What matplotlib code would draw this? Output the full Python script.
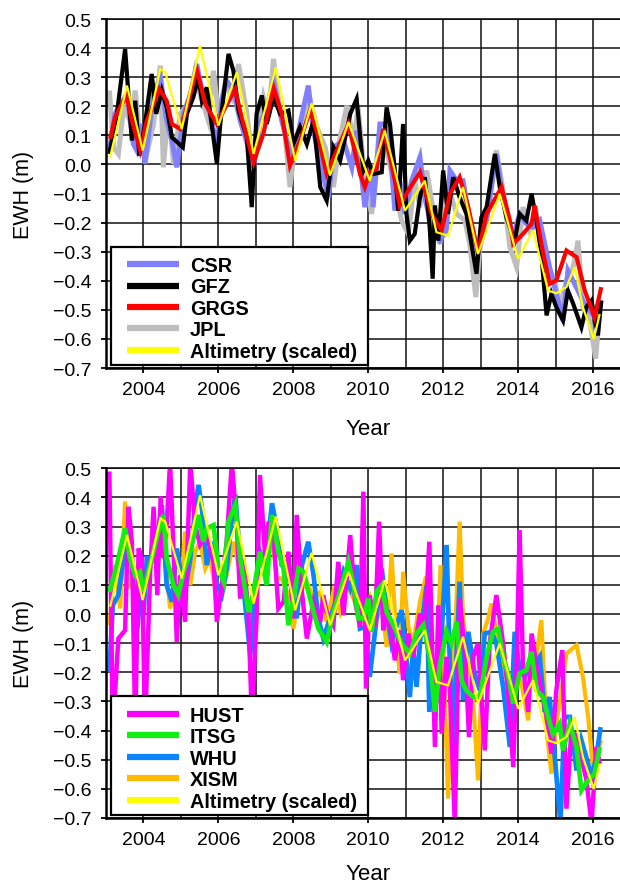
import matplotlib
matplotlib.use("Agg")
import matplotlib.pyplot as plt
from matplotlib.ticker import MultipleLocator, FuncFormatter
from matplotlib.patches import Rectangle

plt.rcParams['font.family'] = ['Liberation Sans', 'DejaVu Sans']

# ---------------- Altimetry (scaled), shared by both panels ----------------
alt_t = [2003.11, 2003.56, 2003.98, 2004.45, 2004.58, 2005.02, 2005.51, 2006.00, 2006.49, 2006.94,
         2007.53, 2008.05, 2008.49, 2008.98, 2009.47, 2009.78, 2010.04, 2010.44, 2010.98, 2011.51,
         2011.82, 2012.13, 2012.53, 2012.93, 2013.51, 2014.00, 2014.40, 2014.80, 2015.02, 2015.29,
         2015.51, 2015.73, 2016.02, 2016.18]
alt_v = [0.025, 0.271, 0.048, 0.328, 0.317, 0.122, 0.408, 0.133, 0.317, 0.036,
         0.334, 0.013, 0.210, -0.038, 0.145, 0.036, -0.056, 0.116, -0.159, -0.056,
         -0.233, -0.245, -0.078, -0.308, -0.101, -0.325, -0.227, -0.434, -0.443, -0.422,
         -0.353, -0.491, -0.600, -0.514]

# ---------------- Top panel ----------------
grgs_t = [2003.11, 2003.24, 2003.54, 2003.69, 2003.91, 2004.09, 2004.43, 2004.62, 2004.76, 2004.98,
          2005.11, 2005.42, 2005.65, 2005.96, 2006.14, 2006.45, 2006.62, 2006.94, 2007.20, 2007.47,
          2007.69, 2007.91, 2008.18, 2008.45, 2008.67, 2008.89, 2009.20, 2009.47, 2009.78, 2009.91,
          2010.04, 2010.22, 2010.40, 2010.62, 2010.84, 2011.07, 2011.38, 2011.69, 2011.96, 2012.18,
          2012.44, 2012.67, 2012.93, 2013.16, 2013.56, 2013.78, 2013.87, 2014.13, 2014.36, 2014.44,
          2014.62, 2014.84, 2015.02, 2015.29, 2015.56, 2015.78, 2016.04, 2016.22]
grgs_v = [0.088, 0.162, 0.237, 0.151, 0.048, 0.151, 0.259, 0.219, 0.139, 0.122,
          0.174, 0.328, 0.208, 0.139, 0.185, 0.259, 0.162, 0.007, 0.105, 0.265,
          0.174, -0.004, 0.082, 0.185, 0.093, -0.033, 0.059, 0.139, -0.033, -0.078,
          -0.027, -0.015, 0.122, 0.002, -0.141, -0.090, -0.027, -0.170, -0.227, -0.101,
          -0.044, -0.147, -0.302, -0.170, -0.078, -0.193, -0.273, -0.239, -0.204, -0.141,
          -0.273, -0.411, -0.399, -0.296, -0.319, -0.434, -0.525, -0.422]

gfz_t = [2003.09, 2003.29, 2003.51, 2003.69, 2003.78, 2003.89, 2004.04, 2004.22, 2004.34, 2004.49,
         2004.62, 2004.76, 2005.05, 2005.16, 2005.33, 2005.47, 2005.56, 2005.69, 2005.82, 2005.96,
         2006.05, 2006.27, 2006.40, 2006.54, 2006.76, 2006.89, 2007.02, 2007.16, 2007.29, 2007.47,
         2007.65, 2007.87, 2008.00, 2008.18, 2008.36, 2008.54, 2008.72, 2008.89, 2009.07, 2009.25,
         2009.52, 2009.69, 2009.87, 2010.00, 2010.13, 2010.36, 2010.49, 2010.58, 2010.71, 2010.80,
         2010.93, 2011.02, 2011.11, 2011.24, 2011.38, 2011.51, 2011.64, 2011.72, 2011.78, 2011.87,
         2012.00, 2012.13, 2012.27, 2012.44, 2012.62, 2012.80, 2012.89, 2013.02, 2013.16, 2013.38,
         2013.51, 2013.69, 2013.91, 2014.04, 2014.22, 2014.36, 2014.49, 2014.62, 2014.76, 2014.89,
         2015.02, 2015.20, 2015.33, 2015.47, 2015.69, 2015.82, 2015.96, 2016.13, 2016.22]
gfz_v = [0.036, 0.174, 0.397, 0.082, 0.219, 0.030, 0.139, 0.311, 0.174, 0.254,
         0.196, 0.093, 0.059, 0.174, 0.231, 0.300, 0.219, 0.265, 0.139, 0.002,
         0.139, 0.380, 0.322, 0.185, 0.093, -0.147, 0.174, 0.237, 0.139, 0.231,
         0.174, 0.185, 0.070, 0.128, 0.070, 0.151, -0.078, -0.124, 0.059, 0.013,
         0.174, 0.225, -0.021, 0.013, -0.033, -0.027, 0.196, 0.139, -0.021, -0.159,
         0.139, -0.170, -0.262, -0.239, -0.113, -0.044, -0.216, -0.393, -0.141, -0.262,
         -0.021, -0.170, -0.044, -0.113, -0.170, -0.308, -0.376, -0.182, -0.147, 0.036,
         -0.078, -0.182, -0.262, -0.170, -0.193, -0.101, -0.193, -0.308, -0.519, -0.445,
         -0.491, -0.537, -0.434, -0.479, -0.560, -0.491, -0.468, -0.588, -0.468]

csr_t = [2003.09, 2003.24, 2003.56, 2003.73, 2003.82, 2003.96, 2004.04, 2004.27, 2004.45, 2004.62,
         2004.76, 2004.89, 2005.07, 2005.29, 2005.42, 2005.60, 2005.78, 2005.96, 2006.09, 2006.22,
         2006.40, 2006.58, 2006.80, 2006.94, 2007.11, 2007.29, 2007.47, 2007.65, 2007.83, 2008.00,
         2008.18, 2008.40, 2008.54, 2008.72, 2008.94, 2009.07, 2009.34, 2009.56, 2009.69, 2009.91,
         2010.09, 2010.13, 2010.31, 2010.44, 2010.58, 2010.71, 2010.84, 2010.98, 2011.16, 2011.38,
         2011.51, 2011.69, 2011.91, 2012.09, 2012.18, 2012.36, 2012.53, 2012.71, 2012.93, 2013.16,
         2013.42, 2013.60, 2013.87, 2014.04, 2014.22, 2014.40, 2014.58, 2014.84, 2015.02, 2015.20,
         2015.33, 2015.51, 2015.73, 2015.91, 2016.09, 2016.22]
csr_v = [0.048, 0.174, 0.242, 0.070, 0.048, 0.139, 0.002, 0.242, 0.300, 0.151,
         0.082, -0.010, 0.174, 0.254, 0.345, 0.231, 0.174, 0.059, 0.219, 0.288,
         0.254, 0.151, 0.059, -0.010, 0.139, 0.196, 0.288, 0.174, 0.082, 0.025,
         0.139, 0.271, 0.116, 0.002, -0.113, 0.059, 0.082, -0.010, 0.116, -0.147,
         0.002, -0.147, 0.139, 0.139, 0.059, -0.159, -0.056, -0.170, -0.056, 0.025,
         -0.113, -0.216, -0.262, -0.227, -0.021, -0.056, -0.056, -0.193, -0.308, -0.193,
         0.036, -0.124, -0.250, -0.170, -0.204, -0.216, -0.193, -0.353, -0.445, -0.537,
         -0.365, -0.411, -0.468, -0.502, -0.537, -0.468]

jpl_t = [2003.09, 2003.20, 2003.33, 2003.47, 2003.64, 2003.78, 2003.91, 2004.09, 2004.27, 2004.45,
         2004.53, 2004.67, 2004.80, 2004.98, 2005.20, 2005.38, 2005.51, 2005.73, 2005.87, 2006.00,
         2006.18, 2006.36, 2006.54, 2006.76, 2006.89, 2007.02, 2007.20, 2007.34, 2007.47, 2007.65,
         2007.78, 2007.91, 2008.09, 2008.27, 2008.45, 2008.63, 2008.85, 2009.07, 2009.25, 2009.43,
         2009.61, 2009.73, 2009.91, 2010.09, 2010.27, 2010.40, 2010.53, 2010.71, 2010.89, 2011.07,
         2011.24, 2011.38, 2011.56, 2011.78, 2011.91, 2012.13, 2012.36, 2012.58, 2012.71, 2012.87,
         2013.02, 2013.16, 2013.42, 2013.60, 2013.78, 2013.96, 2014.13, 2014.31, 2014.49, 2014.67,
         2014.80, 2014.98, 2015.11, 2015.29, 2015.47, 2015.60, 2015.73, 2015.91, 2016.07, 2016.20]
jpl_v = [0.254, 0.059, 0.036, 0.196, 0.151, 0.254, 0.082, 0.036, 0.139, 0.340,
         -0.010, 0.196, 0.002, 0.174, 0.208, 0.322, 0.242, 0.151, 0.322, 0.174,
         0.277, 0.231, 0.345, 0.174, 0.036, 0.082, 0.231, 0.162, 0.363, 0.174,
         0.105, -0.078, 0.105, 0.151, 0.219, 0.128, 0.059, -0.078, 0.093, 0.202,
         0.082, 0.196, -0.056, -0.170, 0.025, 0.093, 0.025, -0.078, -0.193, -0.239,
         -0.056, -0.147, -0.021, -0.193, -0.273, -0.078, -0.170, -0.193, -0.273, -0.456,
         -0.227, -0.170, 0.048, -0.090, -0.285, -0.353, -0.147, -0.227, -0.170, -0.308,
         -0.353, -0.399, -0.491, -0.399, -0.353, -0.262, -0.491, -0.537, -0.668, -0.468]

# ---------------- Bottom panel ----------------
hust_t = [2003.09, 2003.18, 2003.33, 2003.51, 2003.60, 2003.69, 2003.78, 2003.87, 2003.96, 2004.04,
          2004.18, 2004.27, 2004.37, 2004.46, 2004.53, 2004.62, 2004.71, 2004.80, 2004.89, 2004.98,
          2005.11, 2005.25, 2005.38, 2005.51, 2005.69, 2005.87, 2005.96, 2006.09, 2006.22, 2006.36,
          2006.49, 2006.58, 2006.67, 2006.80, 2006.89, 2007.02, 2007.11, 2007.25, 2007.34, 2007.47,
          2007.60, 2007.74, 2007.87, 2008.00, 2008.09, 2008.23, 2008.36, 2008.54, 2008.72, 2008.80,
          2008.89, 2009.07, 2009.20, 2009.34, 2009.52, 2009.65, 2009.78, 2009.87, 2009.94, 2010.04,
          2010.18, 2010.29, 2010.40, 2010.53, 2010.62, 2010.71, 2010.84, 2010.93, 2011.07, 2011.20,
          2011.38, 2011.51, 2011.63, 2011.78, 2011.87, 2011.96, 2012.09, 2012.18, 2012.31, 2012.44,
          2012.58, 2012.69, 2012.80, 2012.93, 2013.11, 2013.24, 2013.42, 2013.60, 2013.73, 2013.87,
          2013.96, 2014.04, 2014.13, 2014.27, 2014.36, 2014.49, 2014.62, 2014.76, 2014.89, 2015.02,
          2015.18, 2015.29, 2015.42, 2015.56, 2015.69, 2015.82, 2015.96, 2016.09, 2016.18]
hust_v = [0.489, -0.400, -0.084, -0.056, 0.368, 0.248, -0.400, 0.225, 0.191, -0.400,
          0.145, 0.368, 0.065, 0.403, 0.191, 0.305, 0.520, 0.225, -0.096, 0.133,
          -0.027, 0.520, 0.305, 0.237, 0.271, 0.179, -0.027, 0.099, 0.248, 0.520,
          0.305, 0.053, 0.191, 0.007, -0.350, -0.015, 0.477, 0.191, 0.317, 0.271,
          0.019, 0.042, 0.214, -0.015, 0.340, 0.076, -0.084, 0.042, -0.027, 0.065,
          0.007, -0.038, 0.179, -0.004, 0.271, 0.042, -0.044, 0.420, -0.256, 0.064,
          -0.044, 0.317, -0.056, 0.013, -0.067, -0.159, -0.056, -0.227, -0.067, -0.147,
          0.002, -0.056, 0.248, -0.456, 0.030, -0.411, -0.147, -0.262, -0.720, 0.053,
          -0.130, -0.422, -0.147, -0.101, -0.468, -0.101, 0.065, -0.101, -0.262, -0.525,
          -0.176, 0.288, -0.176, -0.336, -0.067, -0.176, -0.262, -0.353, -0.479, -0.262,
          -0.124, -0.668, -0.405, -0.416, -0.497, -0.566, -0.720, -0.456, -0.514]

itsg_t = [2003.09, 2003.29, 2003.51, 2003.64, 2003.78, 2003.91, 2004.00, 2004.22, 2004.40, 2004.53,
          2004.62, 2004.80, 2004.93, 2005.07, 2005.25, 2005.47, 2005.60, 2005.69, 2005.87, 2006.00,
          2006.14, 2006.27, 2006.45, 2006.58, 2006.71, 2006.80, 2006.94, 2007.11, 2007.29, 2007.43,
          2007.60, 2007.74, 2007.87, 2008.00, 2008.14, 2008.27, 2008.40, 2008.54, 2008.67, 2008.89,
          2009.07, 2009.25, 2009.47, 2009.61, 2009.74, 2009.87, 2010.00, 2010.09, 2010.22, 2010.36,
          2010.49, 2010.67, 2010.89, 2011.11, 2011.29, 2011.47, 2011.64, 2011.78, 2011.91, 2012.09,
          2012.22, 2012.36, 2012.49, 2012.62, 2012.80, 2012.98, 2013.16, 2013.33, 2013.47, 2013.60,
          2013.73, 2013.87, 2014.04, 2014.22, 2014.36, 2014.49, 2014.67, 2014.80, 2014.93, 2015.11,
          2015.20, 2015.38, 2015.56, 2015.69, 2015.87, 2016.04, 2016.18]
itsg_v = [0.076, 0.168, 0.294, 0.191, 0.133, 0.145, 0.076, 0.191, 0.283, 0.340,
          0.191, 0.099, 0.065, 0.145, 0.214, 0.340, 0.248, 0.294, 0.305, 0.156,
          0.111, 0.317, 0.374, 0.191, 0.088, 0.007, 0.076, 0.214, 0.099, 0.340,
          0.214, 0.156, -0.038, 0.053, 0.156, 0.145, 0.076, 0.007, -0.050, -0.096,
          0.007, 0.076, 0.179, 0.099, -0.015, -0.015, 0.053, -0.061, 0.076, 0.099,
          0.007, -0.038, -0.101, -0.136, -0.067, -0.038, -0.147, -0.336, -0.176, -0.061,
          -0.101, -0.027, -0.227, -0.262, -0.285, -0.285, -0.147, -0.061, -0.050, -0.147,
          -0.204, -0.307, -0.204, -0.193, -0.130, -0.262, -0.285, -0.353, -0.411, -0.376,
          -0.468, -0.376, -0.456, -0.605, -0.571, -0.548, -0.456]

whu_t = [2003.09, 2003.18, 2003.33, 2003.47, 2003.60, 2003.73, 2003.84, 2003.93, 2004.00, 2004.09,
         2004.22, 2004.36, 2004.49, 2004.62, 2004.76, 2004.89, 2004.98, 2005.11, 2005.25, 2005.38,
         2005.47, 2005.56, 2005.69, 2005.82, 2005.96, 2006.09, 2006.22, 2006.36, 2006.45, 2006.58,
         2006.71, 2006.85, 2006.98, 2007.11, 2007.25, 2007.34, 2007.43, 2007.56, 2007.69, 2007.83,
         2007.96, 2008.09, 2008.23, 2008.40, 2008.54, 2008.67, 2008.80, 2008.98, 2009.16, 2009.34,
         2009.52, 2009.69, 2009.78, 2009.91, 2010.04, 2010.18, 2010.36, 2010.49, 2010.62, 2010.76,
         2010.89, 2010.98, 2011.11, 2011.20, 2011.29, 2011.42, 2011.56, 2011.63, 2011.73, 2011.91,
         2012.09, 2012.18, 2012.27, 2012.36, 2012.44, 2012.53, 2012.67, 2012.84, 2012.98, 2013.11,
         2013.29, 2013.42, 2013.60, 2013.78, 2013.91, 2014.04, 2014.18, 2014.31, 2014.44, 2014.58,
         2014.71, 2014.84, 2014.98, 2015.13, 2015.24, 2015.38, 2015.56, 2015.69, 2015.82, 2015.96,
         2016.09, 2016.20]
whu_v = [-0.199, 0.030, 0.065, 0.191, 0.305, 0.111, -0.050, 0.099, -0.004, 0.191,
         0.191, 0.260, 0.374, 0.099, 0.042, 0.225, 0.156, 0.076, 0.191, 0.363,
         0.443, 0.363, 0.168, 0.248, 0.099, 0.065, 0.156, 0.328, 0.409, 0.191,
         0.042, -0.141, 0.076, 0.214, 0.168, 0.271, 0.380, 0.294, 0.168, 0.156,
         0.099, -0.015, 0.168, 0.248, 0.133, -0.015, -0.084, -0.015, 0.053, 0.145,
         0.088, 0.168, -0.050, -0.044, -0.216, -0.061, 0.156, 0.007, -0.101, -0.038,
         0.013, -0.101, -0.285, -0.113, -0.250, -0.038, 0.099, -0.336, -0.159, -0.176,
         0.237, -0.176, -0.456, -0.130, 0.111, -0.296, -0.061, -0.204, -0.262, -0.067,
         -0.061, -0.101, -0.250, -0.456, -0.061, -0.193, -0.216, -0.176, -0.176, -0.147,
         -0.336, -0.285, -0.491, -0.720, -0.353, -0.353, -0.537, -0.433, -0.491, -0.560,
         -0.491, -0.388]

xism_t = [2003.09, 2003.24, 2003.38, 2003.51, 2003.64, 2003.78, 2003.91, 2004.09, 2004.27, 2004.45,
          2004.58, 2004.71, 2004.85, 2004.98, 2005.11, 2005.25, 2005.38, 2005.51, 2005.65, 2005.78,
          2005.96, 2006.09, 2006.22, 2006.40, 2006.54, 2006.67, 2006.80, 2006.94, 2007.11, 2007.25,
          2007.43, 2007.56, 2007.69, 2007.83, 2008.00, 2008.18, 2008.36, 2008.54, 2008.72, 2008.89,
          2009.07, 2009.25, 2009.43, 2009.61, 2009.69, 2009.87, 2010.04, 2010.18, 2010.36, 2010.49,
          2010.62, 2010.76, 2010.84, 2010.93, 2011.07, 2011.20, 2011.38, 2011.54, 2011.69, 2011.82,
          2011.93, 2012.04, 2012.13, 2012.22, 2012.34, 2012.44, 2012.53, 2012.67, 2012.80, 2012.93,
          2013.07, 2013.20, 2013.29, 2013.42, 2013.60, 2013.78, 2013.96, 2014.09, 2014.27, 2014.40,
          2014.49, 2014.62, 2014.76, 2014.89, 2015.02, 2015.16, 2015.29, 2015.56, 2015.73, 2015.87,
          2016.00, 2016.13, 2016.22]
xism_v = [-0.038, 0.168, 0.019, 0.386, 0.099, 0.122, 0.168, 0.133, 0.191, 0.260,
          0.191, 0.019, 0.099, 0.053, 0.283, 0.099, 0.214, 0.248, 0.156, 0.191,
          0.053, 0.065, 0.133, 0.248, 0.168, 0.099, 0.019, 0.065, 0.191, 0.168,
          0.271, 0.122, 0.122, 0.076, -0.050, 0.076, 0.111, 0.053, 0.076, -0.027,
          0.076, 0.007, 0.099, 0.053, 0.076, -0.015, 0.053, -0.044, 0.042, -0.113,
          0.208, -0.101, -0.204, 0.145, -0.044, -0.101, 0.042, 0.128, -0.147, -0.204,
          0.168, -0.262, -0.633, -0.262, 0.002, 0.317, -0.015, -0.147, -0.296, -0.571,
          -0.067, -0.015, 0.036, -0.061, -0.176, -0.262, -0.193, -0.239, -0.365, -0.101,
          -0.147, -0.021, -0.399, -0.548, -0.376, -0.262, -0.136, -0.107, -0.216, -0.353,
          -0.537, -0.468, -0.433]

year_ticks = [2004, 2006, 2008, 2010, 2012, 2014, 2016]
top_names = ['CSR', 'GFZ', 'GRGS', 'JPL', 'Altimetry (scaled)']
bottom_names = ['HUST', 'ITSG', 'WHU', 'XISM', 'Altimetry (scaled)']

W, H = 620, 887
fig = plt.figure(figsize=(W / 100, H / 100), dpi=100)


def style_axes(ax, year_y):
    ax.set_xlim(2003.0, 2016.72)
    ax.set_ylim(-0.7, 0.5)
    ax.set_xticks(year_ticks)
    ax.xaxis.set_minor_locator(MultipleLocator(1))
    ax.yaxis.set_major_locator(MultipleLocator(0.1))
    ax.yaxis.set_major_formatter(FuncFormatter(
        lambda v, p: f"{v:.1f}".replace('-0.0', '0.0').replace('-', '\u2212')))
    ax.grid(True, which='both', color='#111111', linewidth=1.1)
    ax.set_axisbelow(True)
    ax.tick_params(axis='both', which='major', direction='out', length=3.7, width=1.3,
                   labelsize=14, color='black')
    ax.tick_params(axis='x', which='major', pad=6)
    ax.tick_params(axis='y', which='major', pad=6.5)
    ax.tick_params(axis='x', which='minor', length=0)
    ax.spines['right'].set_visible(False)
    ax.spines['top'].set_linewidth(1.1)
    ax.spines['left'].set_linewidth(1.8)
    ax.spines['bottom'].set_linewidth(1.8)
    ax.set_xlabel('Year', fontsize=16)
    ax.xaxis.label.set_va('center')
    ax.xaxis.set_label_coords(0.51, year_y)
    ax.set_ylabel('EWH (m)', fontsize=15.5)
    ax.yaxis.label.set_va('center')
    ax.yaxis.set_label_coords(-0.161, 0.5)


def add_legend(ax, handles, names):
    # white box behind the legend entries
    ax.add_patch(Rectangle((0.0097, 0.0095), 0.50, 0.338, transform=ax.transAxes,
                           facecolor='white', edgecolor='black', linewidth=1.6,
                           zorder=4.9, clip_on=False))
    leg = ax.legend(handles, names, loc='upper left', bbox_to_anchor=(0.041, 0.321),
                    borderaxespad=0, borderpad=0, frameon=False,
                    prop={'weight': 'bold', 'size': 14.3},
                    handlelength=2.6, handletextpad=0.55, labelspacing=0.125)
    for h in leg.legend_handles:
        h.set_linewidth(4.5)
    return leg


kw = dict(solid_joinstyle='miter', solid_capstyle='butt')

# ---- top panel ----
ax1 = fig.add_axes([106 / W, 1 - 369 / H, 514 / W, 349 / H])
l_jpl, = ax1.plot(jpl_t, jpl_v, color='#BEBEBE', lw=3.6, **kw)
l_csr, = ax1.plot(csr_t, csr_v, color='#8080FF', lw=3.6, **kw)
l_gfz, = ax1.plot(gfz_t, gfz_v, color='black', lw=3.0, **kw)
l_grgs, = ax1.plot(grgs_t, grgs_v, color='#FF0000', lw=3.0, **kw)
l_alt1, = ax1.plot(alt_t, alt_v, color='#FFFF00', lw=1.6, **kw)
style_axes(ax1, -0.172)
add_legend(ax1, [l_csr, l_gfz, l_grgs, l_jpl, l_alt1], top_names)

# ---- bottom panel ----
ax2 = fig.add_axes([106 / W, 1 - 819 / H, 514 / W, 349.7 / H])
l_xism, = ax2.plot(xism_t, xism_v, color='#FFBB00', lw=3.0, **kw)
l_whu, = ax2.plot(whu_t, whu_v, color='#0A84FF', lw=3.4, **kw)
l_hust, = ax2.plot(hust_t, hust_v, color='#FF00FF', lw=3.2, **kw)
l_itsg, = ax2.plot(itsg_t, itsg_v, color='#11EE11', lw=3.4, **kw)
l_alt2, = ax2.plot(alt_t, alt_v, color='#FFFF00', lw=1.6, **kw)
style_axes(ax2, -0.158)
add_legend(ax2, [l_hust, l_itsg, l_whu, l_xism, l_alt2], bottom_names)

fig.savefig('out.png', dpi=100)
